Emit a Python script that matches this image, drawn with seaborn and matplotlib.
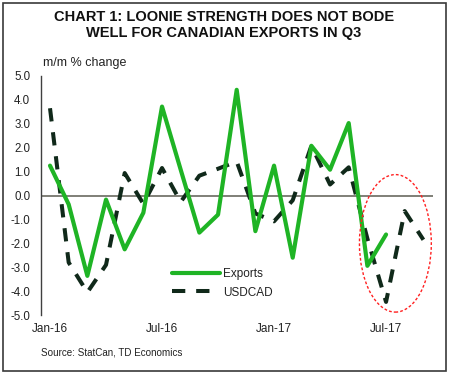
import matplotlib
matplotlib.use("Agg")
import matplotlib.pyplot as plt
import seaborn as sns
import numpy as np
import pandas as pd
from matplotlib.patches import Ellipse, Rectangle

# ---- data ----
months = ['Jan-16', 'Feb-16', 'Mar-16', 'Apr-16', 'May-16', 'Jun-16', 'Jul-16',
          'Aug-16', 'Sep-16', 'Oct-16', 'Nov-16', 'Dec-16', 'Jan-17', 'Feb-17',
          'Mar-17', 'Apr-17', 'May-17', 'Jun-17', 'Jul-17', 'Aug-17', 'Sep-17']
exports = [1.25, -0.37, -3.36, -0.17, -2.25, -0.72, 3.72, 1.08, -1.55, -0.80,
           4.42, -1.49, 1.25, -2.60, 2.08, 1.08, 3.03, -2.94, -1.63]
usdcad = [3.65, -2.80, -4.05, -2.90, 0.94, -0.35, 1.15, -0.27, 0.83, 1.12,
          1.42, -0.75, -1.08, -0.20, 2.08, 0.46, 1.18, -1.80, -4.45, -0.65, -1.85]
xtick_labels = ['Jan-16', 'Jul-16', 'Jan-17', 'Jul-17']
ytick_values = [5.0, 4.0, 3.0, 2.0, 1.0, 0.0, -1.0, -2.0, -3.0, -4.0, -5.0]

title_lines = ['CHART 1: LOONIE STRENGTH DOES NOT BODE',
               'WELL FOR CANADIAN EXPORTS IN Q3']
unit_label = 'm/m % change'
source_label = 'Source: StatCan, TD Economics'

sns.set_theme(style='white')
plt.rcParams['font.family'] = ['Liberation Sans', 'DejaVu Sans']

fig = plt.figure(figsize=(4.5, 3.76), dpi=100)
ax = fig.add_axes([0.0904, 0.162, 0.8712, 0.636])

df_exp = pd.DataFrame({'idx': np.arange(len(exports)), 'val': exports})
df_usd = pd.DataFrame({'idx': np.arange(len(usdcad)), 'val': usdcad})

green = '#1fb425'
dark = '#10291a'

ax.axhline(0, color='#5c5c52', lw=1.1, zorder=1)
sns.lineplot(data=df_exp, x='idx', y='val', ax=ax, color=green, lw=3.0,
             label='Exports', zorder=3)
sns.lineplot(data=df_usd, x='idx', y='val', ax=ax, color=dark, lw=2.9,
             label='USDCAD', zorder=2, dashes=False)
ax.lines[-1].set_dashes([3.3, 2.7])

# annotation ellipse around the latest months
ell = Ellipse((18.5, -2.0), width=3.85, height=5.75, fill=False,
              ec='#ff2020', lw=1.0, ls=(0, (2, 1.5)), zorder=4)
ax.add_patch(ell)

ax.set_xlim(-0.5, 20.5)
ax.set_ylim(-5, 5)
ax.set_xticks([months.index(m) for m in xtick_labels])
ax.set_xticklabels(xtick_labels)
ax.set_yticks(ytick_values)
ax.set_yticklabels([f'{v:.1f}' for v in ytick_values])
ax.set_xlabel('')
ax.set_ylabel('')
ax.tick_params(axis='x', length=0, pad=6, labelsize=8.5, colors='#222222')
ax.tick_params(axis='y', length=0, pad=7.5, labelsize=8.3, colors='#222222')
for s in ['top', 'right', 'bottom']:
    ax.spines[s].set_visible(False)
ax.spines['left'].set_color('#404040')
ax.spines['left'].set_linewidth(1.0)
ax.set_facecolor('none')

leg = ax.legend(loc='center left', bbox_to_anchor=(0.334, 0.1326), frameon=False,
                borderpad=0, borderaxespad=0, handlelength=4.1,
                handletextpad=0.25, labelspacing=0.55, fontsize=8.5)
for t in leg.get_texts():
    t.set_color('#222222')

fig.text(0.498, 0.955, title_lines[0], ha='center', va='center',
         fontsize=10.5, fontweight='bold', color='#111111')
fig.text(0.498, 0.912, title_lines[1], ha='center', va='center',
         fontsize=10.5, fontweight='bold', color='#111111')
fig.text(43 / 450, 1 - 63 / 376, unit_label, ha='left', va='center',
         fontsize=9, color='#222222')
fig.text(40.7 / 450, 1 - 352.7 / 376, source_label, ha='left', va='center',
         fontsize=7.1, color='#222222')

fig.patches.append(Rectangle((0.006, 0.0133), 0.984, 0.978, transform=fig.transFigure,
                             fill=False, ec='#3a3a3a', lw=1.2))

fig.savefig('out.png', dpi=100)
